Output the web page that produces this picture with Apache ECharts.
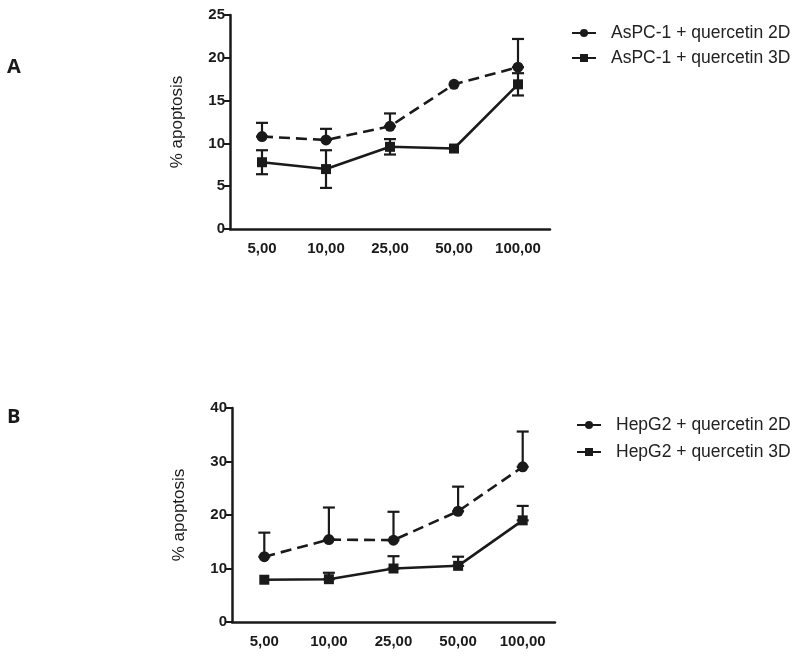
<!DOCTYPE html>
<html>
<head>
<meta charset="utf-8">
<script src="https://cdn.jsdelivr.net/npm/echarts@6/dist/echarts.min.js"></script>
<style>
  html, body { margin: 0; padding: 0; background: #fff; }
</style>
</head>
<body>
<div id="apoptosisChart" style="width: 800px;height: 657px"></div>
<script>
  // concentrations on the x axis
  const categories = ['5,00', '10,00', '25,00', '50,00', '100,00'];

  // panel A: AsPC-1
  const aspc2D = [10.8, 10.4, 12.0, 16.9, 18.9];
  const aspc2DErr = [1.6, 1.3, 1.5, 0, 3.3];
  const aspc3D = [7.8, 7.0, 9.6, 9.4, 16.9];
  const aspc3DErr = [1.4, 2.2, 0.9, 0, 1.3];

  // panel B: HepG2
  const hep2D = [12.2, 15.4, 15.3, 20.7, 29.0];
  const hep2DErr = [4.5, 6.0, 5.3, 4.6, 6.6];
  const hep3D = [7.9, 8.0, 10.0, 10.5, 19.0];
  const hep3DErr = [0, 1.2, 2.3, 1.7, 2.7];

  const ink = '#1a1a1a';

  // error bar rows: [category index, low, high]
  function errRows(values, errs, both) {
    let rows = [];
    for (let i = 0; i < values.length; i++) {
      if (!errs[i]) continue;
      rows.push([i, both ? values[i] - errs[i] : values[i], values[i] + errs[i]]);
    }
    return rows;
  }

  function renderErr(params, api) {
    let lo = api.coord([api.value(0), api.value(1)]);
    let hi = api.coord([api.value(0), api.value(2)]);
    let w = 6;
    let style = {stroke: ink, lineWidth: 2.2, fill: null};
    return {
      type: 'group',
      children: [
        {type: 'line', shape: {x1: hi[0], y1: hi[1], x2: lo[0], y2: lo[1]}, style: style},
        {type: 'line', shape: {x1: hi[0] - w, y1: hi[1], x2: hi[0] + w, y2: hi[1]}, style: style},
        {type: 'line', shape: {x1: lo[0] - w, y1: lo[1], x2: lo[0] + w, y2: lo[1]}, style: style}
      ]
    };
  }

  function xAxisFor(idx) {
    return {
      type: 'category',
      gridIndex: idx,
      data: categories,
      boundaryGap: true,
      axisLine: {lineStyle: {color: ink, width: 2.5}},
      axisTick: {alignWithLabel: true, length: 6, lineStyle: {color: ink, width: 2}},
      axisLabel: {color: ink, fontWeight: 'bold', fontSize: 15, margin: 12, fontFamily: 'Liberation Sans'}
    };
  }

  function yAxisFor(idx, max, interval) {
    return {
      type: 'value',
      gridIndex: idx,
      min: 0,
      max: max,
      interval: interval,
      name: '% apoptosis',
      nameLocation: 'middle',
      nameGap: 44,
      nameTextStyle: {color: ink, fontSize: 17, fontFamily: 'Liberation Sans'},
      splitLine: {show: false},
      axisLine: {show: true, lineStyle: {color: ink, width: 2.5}},
      axisTick: {show: true, length: 6, lineStyle: {color: ink, width: 2}},
      axisLabel: {color: ink, fontWeight: 'bold', fontSize: 15, margin: 5, fontFamily: 'Liberation Sans'}
    };
  }

  function lineSeries(name, data, idx, dashed, symbol) {
    return {
      name: name,
      type: 'line',
      xAxisIndex: idx,
      yAxisIndex: idx,
      data: data,
      symbol: symbol,
      symbolSize: symbol === 'circle' ? 11 : 10,
      itemStyle: {color: ink},
      lineStyle: {color: ink, width: 2.6, type: dashed ? [11, 6] : 'solid'},
      z: 3
    };
  }

  function errSeries(rows, idx) {
    return {
      type: 'custom',
      xAxisIndex: idx,
      yAxisIndex: idx,
      data: rows,
      renderItem: renderErr,
      z: 2,
      silent: true
    };
  }

  let chart = echarts.init(document.getElementById('apoptosisChart'));

  let legendBase = {
    orient: 'vertical',
    itemWidth: 24,
    itemHeight: 10,
    itemGap: 7,
    lineStyle: {type: 'solid'},
    textStyle: {color: '#222', fontSize: 17.5, fontFamily: 'Liberation Sans', padding: [0, 0, 0, 10]}
  };

  let option = {
    backgroundColor: '#fff',
    animation: false,
    title: [
      {text: 'A', left: 2, top: 52, textStyle: {fontSize: 20, fontWeight: 'bold', color: ink, fontFamily: 'Open Sans'}},
      {text: 'B', left: 2, top: 402, textStyle: {fontSize: 20, fontWeight: 'bold', color: ink, fontFamily: 'Open Sans'}}
    ],
    legend: [
      Object.assign({}, legendBase, {left: 566, top: 19, data: ['AsPC-1 + quercetin 2D', 'AsPC-1 + quercetin 3D']}),
      Object.assign({}, legendBase, {left: 571, top: 411, itemGap: 9, data: ['HepG2 + quercetin 2D', 'HepG2 + quercetin 3D']})
    ],
    grid: [
      {left: 230, top: 15, width: 320, height: 214},
      {left: 232, top: 408, width: 323, height: 214}
    ],
    xAxis: [xAxisFor(0), xAxisFor(1)],
    yAxis: [yAxisFor(0, 25, 5), yAxisFor(1, 40, 10)],
    series: [
      errSeries(errRows(aspc2D, aspc2DErr, false), 0),
      errSeries(errRows(aspc3D, aspc3DErr, true), 0),
      lineSeries('AsPC-1 + quercetin 2D', aspc2D, 0, true, 'circle'),
      lineSeries('AsPC-1 + quercetin 3D', aspc3D, 0, false, 'rect'),
      errSeries(errRows(hep2D, hep2DErr, false), 1),
      errSeries(errRows(hep3D, hep3DErr, false), 1),
      lineSeries('HepG2 + quercetin 2D', hep2D, 1, true, 'circle'),
      lineSeries('HepG2 + quercetin 3D', hep3D, 1, false, 'rect')
    ]
  };

  chart.setOption(option);
</script>
</body>
</html>
